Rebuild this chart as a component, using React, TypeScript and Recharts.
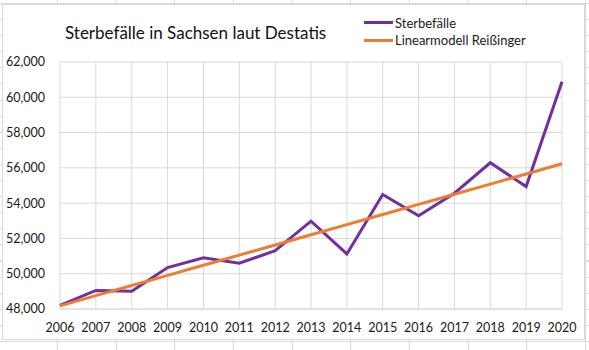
import React from "react";
import { LineChart, Line, XAxis, YAxis, CartesianGrid } from "recharts";

const years = [2006, 2007, 2008, 2009, 2010, 2011, 2012, 2013, 2014, 2015, 2016, 2017, 2018, 2019, 2020];
const sterbefaelle = [48200, 49050, 49000, 50350, 50900, 50600, 51300, 52980, 51120, 54490, 53290, 54560, 56290, 54940, 60880];
const linearmodell = [48180, 48755, 49330, 49905, 50480, 51055, 51630, 52205, 52780, 53355, 53930, 54505, 55080, 55655, 56230];
const yTicks = [48000, 50000, 52000, 54000, 56000, 58000, 60000, 62000];

const seriesNames = { s: "Sterbefälle", l: "Linearmodell Reißinger" };
const colors = { s: "#7030A0", l: "#ED7D31" };

const data = years.map((y, i) => ({ year: y, s: sterbefaelle[i], l: linearmodell[i] }));

const font = "Lato, 'Open Sans', sans-serif";

const fmt = (v: number) => v.toLocaleString("en-US");

const LegendBox = () => {
  const items = [
    { key: "s", name: seriesNames.s, color: colors.s },
    { key: "l", name: seriesNames.l, color: colors.l },
  ];
  return (
    <div
      style={{
        position: "absolute",
        left: 361,
        top: 9,
        fontFamily: font,
        fontSize: 13,
        color: "#1a1a1a",
      }}
    >
      {items.map((it) => (
        <div key={it.key} style={{ display: "flex", alignItems: "center", height: 17.5 }}>
          <div style={{ width: 29, height: 3, background: it.color, marginRight: 2 }} />
          <span style={{ whiteSpace: "nowrap" }}>{it.name}</span>
        </div>
      ))}
    </div>
  );
};

export default function App() {
  return (
    <div
      style={{
        position: "absolute",
        left: 0,
        top: 0,
        width: 589,
        height: 350,
        overflow: "hidden",
        background: "#fff",
        backgroundImage:
          "repeating-linear-gradient(to right, transparent 0px, transparent 57px, #dadada 57px, #dadada 58px, transparent 58px, transparent 58.67px), repeating-linear-gradient(to bottom, transparent 0px, transparent 2.9px, #dadada 2.9px, #dadada 3.9px, transparent 3.9px, transparent 16.1px)",
      }}
    >
      <div
        style={{
          position: "absolute",
          left: 2,
          top: 4,
          width: 583,
          height: 336,
          boxSizing: "border-box",
          border: "1px solid #d9d9d9",
          background: "#fff",
        }}
      >
        <div
          style={{
            position: "absolute",
            left: 62,
            top: 17,
            fontFamily: font,
            fontSize: 17,
            color: "#111",
            whiteSpace: "nowrap",
          }}
        >
          Sterbefälle in Sachsen laut Destatis
        </div>
        <LegendBox />
        <LineChart
          width={581}
          height={334}
          data={data}
          margin={{ top: 57, right: 22, bottom: 0, left: 0 }}
          style={{ fontFamily: font }}
        >
          <CartesianGrid stroke="#d9d9d9" strokeWidth={1} />
          <XAxis
            dataKey="year"
            type="number"
            domain={[2006, 2020]}
            ticks={years}
            interval={0}
            height={30}
            tickLine={false}
            axisLine={{ stroke: "#d9d9d9" }}
            tickSize={0}
            tickMargin={14}
            tick={{ fontSize: 12.5, fill: "#1a1a1a", fontFamily: font }}
          />
          <YAxis
            type="number"
            domain={[48000, 62000]}
            ticks={yTicks}
            interval={0}
            width={57}
            tickLine={false}
            axisLine={false}
            tickSize={0}
            tickMargin={15}
            tickFormatter={fmt}
            tick={{ fontSize: 12.5, fill: "#1a1a1a", fontFamily: font }}
          />
          <Line
            dataKey="s"
            name={seriesNames.s}
            stroke={colors.s}
            strokeWidth={3}
            dot={false}
            isAnimationActive={false}
          />
          <Line
            dataKey="l"
            name={seriesNames.l}
            stroke={colors.l}
            strokeWidth={3}
            dot={false}
            isAnimationActive={false}
          />
        </LineChart>
      </div>
    </div>
  );
}
